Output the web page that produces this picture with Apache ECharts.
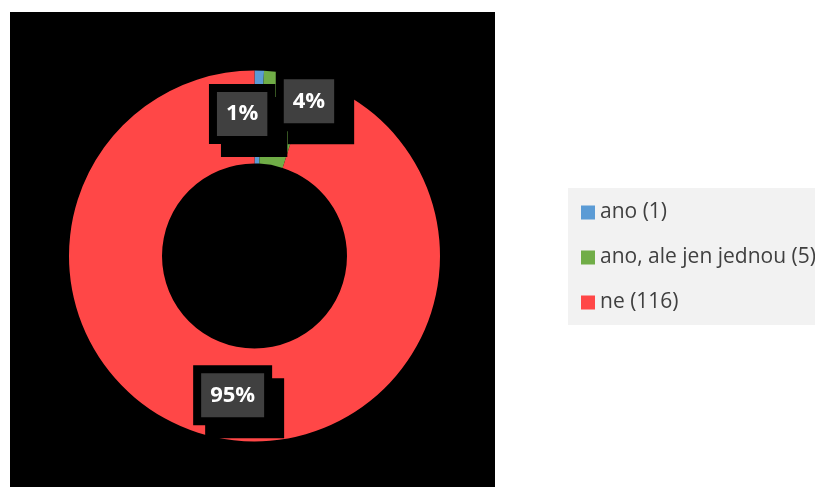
<!DOCTYPE html>
<html>
<head>
<meta charset="utf-8">
<script src="https://cdn.jsdelivr.net/npm/echarts@6/dist/echarts.min.js"></script>
<style>html,body{margin:0;padding:0;background:#fff;}#c{width:815px;height:487px;}</style>
</head>
<body>
<div id="c"></div>
<script>
const categories = ['ano', 'ano, ale jen jednou', 'ne'];
const values = [1, 5, 116];
const colors = ['#5B9BD5', '#70AD47', '#FF4747'];
const labelOffsets = [[-16, 0], [29, -15], [0, -1]];

const chart = echarts.init(document.getElementById('c'), null, {renderer: 'canvas'});
const data = categories.map((n, i) => ({
  name: n,
  value: values[i],
  itemStyle: {color: colors[i]},
  label: {offset: labelOffsets[i]}
}));
chart.setOption({
  animation: false,
  backgroundColor: '#fff',
  graphic: [{
    type: 'rect', left: 10, top: 12, z: -10,
    shape: {width: 485, height: 475},
    style: {fill: '#000'}
  }],
  legend: {
    orient: 'vertical',
    left: 568, top: 188,
    backgroundColor: '#F2F2F2',
    padding: [14, 40, 12, 13],
    itemWidth: 14, itemHeight: 14,
    itemGap: 24,
    icon: 'rect',
    textStyle: {fontFamily: 'Open Sans', fontSize: 21, color: '#404040', lineHeight: 18},
    formatter: function (name) {
      const i = categories.indexOf(name);
      return name + ' (' + values[i] + ')';
    },
    data: categories
  },
  series: [{
    type: 'pie',
    center: [254.5, 256],
    radius: [92.5, 185.5],
    startAngle: 90,
    clockwise: true,
    percentPrecision: 0,
    minShowLabelAngle: 0,
    avoidLabelOverlap: false,
    labelLine: {show: false},
    labelLayout: {hideOverlap: false},
    label: {
      show: true,
      position: 'inside',
      overflow: 'none',
      formatter: '{d}%',
      fontFamily: 'Open Sans',
      fontWeight: 'bold',
      fontSize: 22,
      color: '#fff',
      lineHeight: 24,
      backgroundColor: '#404040',
      borderColor: '#000',
      borderWidth: 8,
      padding: [10, 9, 10, 9],
      shadowColor: '#000',
      shadowBlur: 0,
      shadowOffsetX: 12,
      shadowOffsetY: 13
    },
    emphasis: {disabled: true},
    data: data
  }]
});
</script>
</body>
</html>
